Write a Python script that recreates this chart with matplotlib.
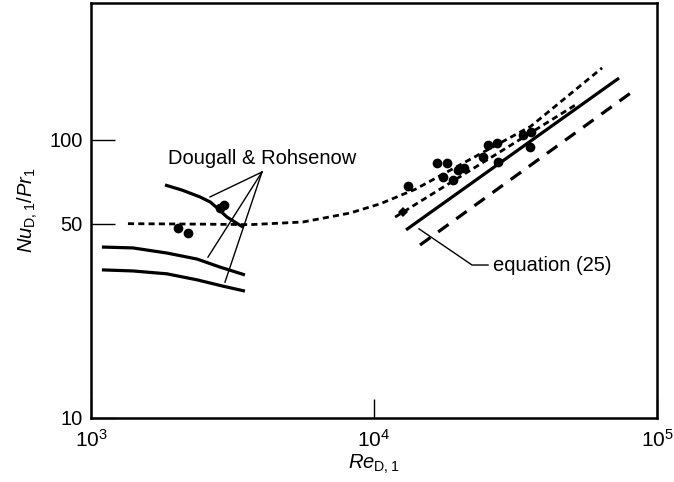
import numpy as np
import matplotlib
matplotlib.use("Agg")
import matplotlib.pyplot as plt
from matplotlib.ticker import FixedLocator, FixedFormatter, LogFormatterSciNotation, NullLocator

plt.rcParams["font.family"] = ["Liberation Sans", "DejaVu Sans"]
plt.rcParams["mathtext.fontset"] = "custom"
plt.rcParams["mathtext.rm"] = "Liberation Sans"
plt.rcParams["mathtext.it"] = "Liberation Sans:italic"
plt.rcParams["font.size"] = 14.5

# Dougall & Rohsenow curves (low Re)
dr_top_x = [1826, 2100, 2427, 2640, 2790, 3024, 3445]
dr_top_y = [68.9, 66.0, 62.4, 59.8, 57.0, 52.8, 48.6]
dr_mid_x = [1093, 1407, 1856, 2370, 2856, 3500]
dr_mid_y = [41.2, 40.9, 39.2, 37.3, 34.9, 32.7]
dr_low_x = [1093, 1407, 1856, 2370, 2927, 3500]
dr_low_y = [34.1, 33.8, 33.0, 31.4, 29.8, 28.6]

# dotted prediction curve
dot_x = [1351, 2500, 3647, 5613, 8227, 10500, 14000, 35800, 63940]
dot_y = [50.0, 49.8, 49.6, 50.7, 54.6, 58.9, 66.5, 112, 181.6]

# lower dotted line through the data
dot2_x = [11870, 52150]
dot2_y = [52.8, 134.7]

# equation (25), solid
eq_x = [12980, 73400]
eq_y = [47.5, 167.0]

# dashed line
dash_x = [14540, 81600]
dash_y = [41.9, 148.8]

# measured points
pts_x = [2030, 2202, 2857, 2951, 13190, 16700, 18110, 17530, 19020, 19810, 20800,
         24270, 25290, 27200, 27420, 33610, 35870, 35580]
pts_y = [48.2, 46.3, 56.9, 58.4, 68.3, 82.7, 82.7, 73.6, 71.8, 78.0, 79.3,
         86.9, 95.9, 97.6, 83.3, 104.2, 106.9, 94.4]
diam_x = [12660]
diam_y = [55.1]

# leader lines
dr_apex = (4020, 76.7)
dr_ends_x = [2634, 2590, 2975]
dr_ends_y = [62.4, 37.9, 30.8]
eq_lead_x = [14420, 22200, 25290]
eq_lead_y = [47.9, 35.5, 35.5]

fig = plt.figure(figsize=(6.74, 4.82), dpi=100)
ax = fig.add_axes([0.135, 0.1328, 0.8398, 0.861])
ax.set_xscale("log")
ax.set_yscale("log")
ax.set_xlim(1e3, 1e5)
ax.set_ylim(10, 311)

k = "black"
ax.plot(dr_top_x, dr_top_y, color=k, lw=2.3, solid_capstyle="butt")
ax.plot(dr_mid_x, dr_mid_y, color=k, lw=2.3, solid_capstyle="butt")
ax.plot(dr_low_x, dr_low_y, color=k, lw=2.3, solid_capstyle="butt")

ax.plot(dot_x, dot_y, color=k, lw=2.0, linestyle=(0, (2.2, 1.5)), dash_capstyle="butt")
ax.plot(dot2_x, dot2_y, color=k, lw=2.0, linestyle=(0, (2.2, 1.5)), dash_capstyle="butt")
ax.plot(eq_x, eq_y, color=k, lw=2.3, solid_capstyle="butt")
ax.plot(dash_x, dash_y, color=k, lw=2.3, linestyle=(0, (4.0, 3.0)), dash_capstyle="butt")

ax.plot(pts_x, pts_y, "o", color=k, ms=7, mew=0)
ax.plot(diam_x, diam_y, "D", color=k, ms=5.5, mew=0)

for ex, ey in zip(dr_ends_x, dr_ends_y):
    ax.plot([dr_apex[0], ex], [dr_apex[1], ey], color=k, lw=1.0)
ax.plot(eq_lead_x, eq_lead_y, color=k, lw=1.0)

ax.text(1872, 86.1, "Dougall & Rohsenow", ha="left", va="center", fontsize=14.5)
ax.text(26330, 35.5, "equation (25)", ha="left", va="center", fontsize=14.5)

# axes styling
for s in ax.spines.values():
    s.set_linewidth(1.8)

ax.xaxis.set_major_locator(FixedLocator([1e3, 1e4, 1e5]))
ax.xaxis.set_major_formatter(LogFormatterSciNotation())
ax.xaxis.set_minor_locator(NullLocator())
ax.yaxis.set_major_locator(FixedLocator([10, 50, 100]))
ax.yaxis.set_major_formatter(FixedFormatter(["10", "50", "100"]))
ax.yaxis.set_minor_locator(NullLocator())
ax.tick_params(axis="x", direction="in", length=14, width=1.0, pad=8, labelsize=15)
ax.tick_params(axis="y", direction="in", length=17, width=1.0, pad=6, labelsize=14.5)

ax.set_xlabel(r"$\mathit{Re}_{\mathrm{D,1}}$", fontsize=14.5, labelpad=1)
ax.set_ylabel(r"$\mathit{Nu}_{\mathrm{D,1}}/\mathit{Pr}_{1}$", fontsize=14.5, labelpad=7)

fig.savefig("out.png", dpi=100)
